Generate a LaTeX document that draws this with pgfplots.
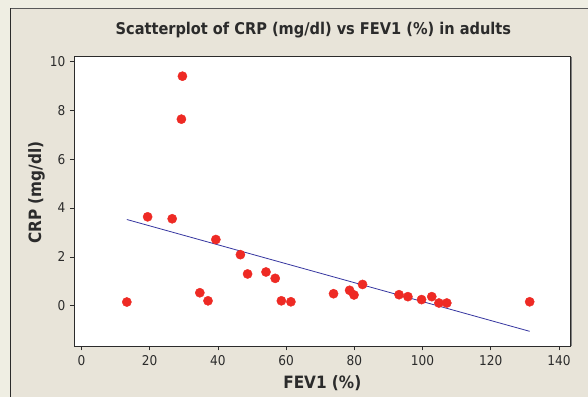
\documentclass[border=0pt]{standalone}
\usepackage{pgfplots}
\pgfplotsset{compat=1.18}
\usepackage{fontspec}
\setmainfont{DejaVu Sans Condensed}
\definecolor{outerbg}{HTML}{EFEEE3}
\definecolor{panelbg}{HTML}{E8E4D9}
\definecolor{ptred}{HTML}{EE2A24}
\definecolor{linblue}{HTML}{3636A0}
\definecolor{txt}{HTML}{2B2B2B}
\begin{document}
\begin{tikzpicture}[x=1pt,y=1pt]
\fill[outerbg] (0,0) rectangle (588,397);
\fill[panelbg] (10.7,0) rectangle (588,388.7);
\draw[gray!70!black, line width=0.8pt] (10.7,388.7) -- (588,388.7);
\draw[txt, line width=1.3pt] (10.7,0) -- (10.7,388.7);
\useasboundingbox (0,0) rectangle (588,397);
\begin{axis}[
  at={(74pt,50.3pt)}, anchor=south west,
  scale only axis, width=497pt, height=290pt,
  xmin=-2.2, xmax=143.4, ymin=-1.67, ymax=10.2,
  axis background/.style={fill=white},
  axis line style={draw=txt, line width=0.9pt},
  xtick={0,20,...,140}, ytick={0,2,...,10},
  xtick pos=left, ytick pos=left,
  tick align=outside, major tick length=4pt,
  tick style={draw=txt, line width=0.6pt},
  /pgf/number format/assume math mode=true,
  ticklabel style={font=\fontsize{13.5}{15}\selectfont, text=txt},
  xticklabel style={yshift=-1pt},
  yticklabel style={xshift=-1pt},
  title={\textbf{Scatterplot of CRP (mg/dl) vs FEV1 (\%) in adults}},
  title style={font=\fontsize{16.2}{18}\selectfont, text=txt, at={(axis description cs:0.482,1.071)}, anchor=center},
  xlabel={\textbf{FEV1 (\%)}},
  xlabel style={font=\fontsize{17}{19}\selectfont, text=txt, at={(axis description cs:0.5,-0.125)}, anchor=center},
  ylabel={\textbf{CRP (mg/dl)}},
  ylabel style={font=\fontsize{17}{19}\selectfont, text=txt, at={(axis description cs:-0.0755,0.531)}, anchor=center},
  clip=false,
  after end axis/.code={\draw[gray, line width=1.5pt] (rel axis cs:1,0) ++(1pt,0) -- ++(0,290pt);},
]
\addplot[linblue, line width=0.8pt] coordinates {(13.3,3.53) (131.4,-1.05)};
\addplot[color=ptred, only marks, mark=*, mark size=4.6pt, mark options={fill=ptred, draw=none}] coordinates {
(13.3,0.15) (19.4,3.64) (26.6,3.56) (29.6,9.40) (29.3,7.64)
(34.7,0.53) (37.1,0.20) (39.4,2.71) (46.6,2.09) (48.7,1.30)
(54.1,1.38) (56.8,1.12) (58.6,0.20) (61.4,0.16)
(73.9,0.49) (78.6,0.63) (79.9,0.44) (82.4,0.87)
(93.1,0.45) (95.7,0.37) (99.7,0.25) (102.7,0.37) (104.8,0.11) (107.1,0.11)
(131.4,0.16)
};
\end{axis}
\end{tikzpicture}
\end{document}
